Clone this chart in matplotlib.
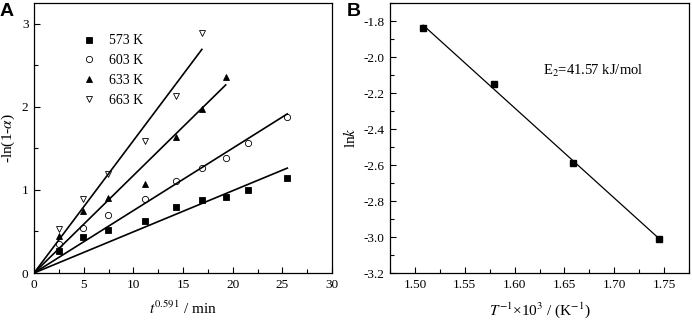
import numpy as np
import matplotlib
matplotlib.use("Agg")
import matplotlib.pyplot as plt
from matplotlib.ticker import MultipleLocator

plt.rcParams['font.family'] = ['Liberation Serif', 'DejaVu Serif']
plt.rcParams['mathtext.fontset'] = 'stix'

# ---------------- data ----------------
temps = ['573 K', '603 K', '633 K', '663 K']
t_573 = [2.55, 4.93, 7.44, 11.2, 14.28, 16.9, 19.3, 21.5, 25.5]
y_573 = [0.27, 0.43, 0.52, 0.62, 0.80, 0.88, 0.92, 1.00, 1.14]
t_603 = [2.55, 4.93, 7.44, 11.2, 14.28, 16.9, 19.3, 21.5, 25.5]
y_603 = [0.35, 0.54, 0.70, 0.89, 1.11, 1.26, 1.39, 1.56, 1.88]
t_633 = [2.55, 4.93, 7.44, 11.2, 14.28, 16.9, 19.3]
y_633 = [0.44, 0.75, 0.90, 1.07, 1.64, 1.98, 2.36]
t_663 = [2.55, 4.93, 7.44, 11.2, 14.28, 16.9]
y_663 = [0.53, 0.89, 1.19, 1.59, 2.13, 2.89]

inv_T = [1.5083, 1.5798, 1.6584, 1.7452]   # 1000/T
ln_k = [-1.84, -2.15, -2.59, -3.01]

series = [(t_573, y_573, 's', 'k'), (t_603, y_603, 'o', 'none'),
          (t_633, y_633, '^', 'k'), (t_663, y_663, 'v', 'none')]

fig = plt.figure(figsize=(6.92, 3.24), dpi=100)
axA = fig.add_axes([34/692, 51/324, 298/692, 270/324])
axB = fig.add_axes([390/692, 51/324, 299/692, 270/324])

# ---------------- panel A ----------------
for (x, y, m, fc), lab in zip(series, temps):
    x = np.array(x); y = np.array(y)
    axA.plot(x, y, m, ms=4.5, mfc=fc, mec='k', mew=0.6, ls='none', label=lab)
    k = np.sum(x * y) / np.sum(x * x)   # fit through origin
    xs = np.array([0, x.max()])
    axA.plot(xs, k * xs, 'k-', lw=1.2)

axA.set_xlim(0, 30)
axA.set_ylim(0, 3.25)
axA.xaxis.set_major_locator(MultipleLocator(5))
axA.xaxis.set_minor_locator(MultipleLocator(2.5))
axA.yaxis.set_major_locator(MultipleLocator(1))
axA.yaxis.set_minor_locator(MultipleLocator(0.5))
axA.set_xlabel(r'$t^{0.591}$ / min', fontsize=11)
axA.set_ylabel(r'-ln(1-$\alpha$)', fontsize=11)
axA.xaxis.set_label_coords(0.5, -0.1)
axA.yaxis.set_label_coords(-0.057, 0.5)
axA.legend(loc='upper left', bbox_to_anchor=(0.12, 0.93), frameon=False,
           fontsize=10, handlelength=1.0, handletextpad=0.9, labelspacing=0.5)

# ---------------- panel B ----------------
axB.plot(inv_T, ln_k, 's', ms=4.5, color='k', ls='none')
p = np.polyfit(inv_T, ln_k, 1)
xs = np.array([min(inv_T), max(inv_T)])
axB.plot(xs, np.polyval(p, xs), 'k-', lw=0.9)
axB.text(1.6286, -2.076, r'E$_2$=41.57 kJ/mol', fontsize=10.5, va='center', ha='left')

axB.set_xlim(1.475, 1.775)
axB.set_ylim(-3.2, -1.7)
axB.xaxis.set_major_locator(MultipleLocator(0.05))
axB.xaxis.set_minor_locator(MultipleLocator(0.025))
axB.yaxis.set_major_locator(MultipleLocator(0.2))
axB.yaxis.set_minor_locator(MultipleLocator(0.1))
axB.xaxis.set_major_formatter(matplotlib.ticker.FormatStrFormatter('%.2f'))
axB.yaxis.set_major_formatter(matplotlib.ticker.FormatStrFormatter('%.1f'))
axB.set_xlabel(r'$T^{-1}$×10$^3$ / (K$^{-1}$)', fontsize=11)
axB.set_ylabel(r'ln$k$', fontsize=11)
axB.xaxis.set_label_coords(0.5, -0.1)
axB.yaxis.set_label_coords(-0.107, 0.5)

for ax in (axA, axB):
    ax.tick_params(which='both', direction='in', top=False, right=False, labelsize=9.5)
    ax.tick_params(which='major', length=4, width=0.8, pad=4)
    ax.tick_params(which='minor', length=3, width=0.8)
    for s in ax.spines.values():
        s.set_linewidth(0.9)

fig.text(0.0, 1 - 3/324, 'A', fontsize=14, fontweight='bold', family='Liberation Sans', va='top', ha='left')
fig.text(347/692, 1 - 3/324, 'B', fontsize=14, fontweight='bold', family='Liberation Sans', va='top', ha='left')

fig.savefig('out.png', dpi=100)
